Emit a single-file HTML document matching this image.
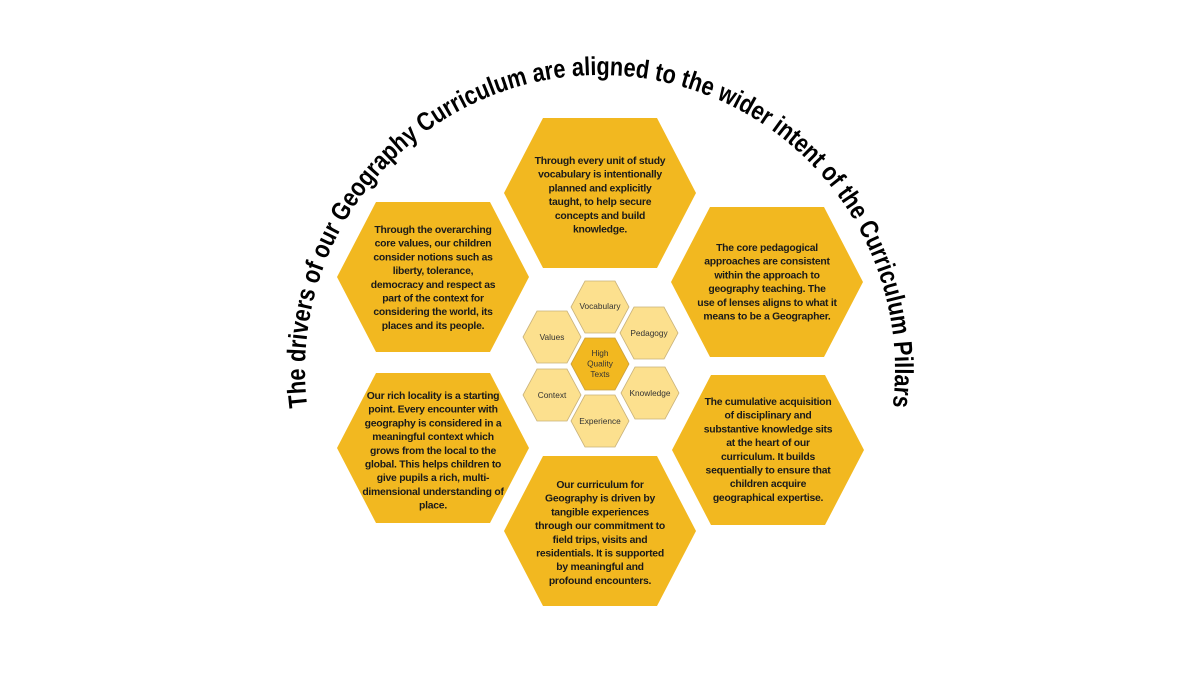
<!DOCTYPE html>
<html><head><meta charset="utf-8"><style>
html,body{margin:0;padding:0;background:#fff;width:1200px;height:675px;overflow:hidden}
svg{display:block}
.bt{font-family:"Liberation Sans",sans-serif;font-weight:bold;font-size:10.4px;fill:#1a1a1a;text-anchor:middle;letter-spacing:-0.25px}
.st{font-family:"Liberation Sans",sans-serif;font-size:8.3px;fill:#333;text-anchor:middle}
.arc{font-family:"Liberation Sans",sans-serif;font-weight:bold;font-size:26px;fill:#000}
</style></head><body>
<svg width="1200" height="675" viewBox="0 0 1200 675">
<defs>
<path id="arcp" d="M 308 412 A 295 295 0 1 1 892 412"/>
<polygon id="bh" points="-96,0 -57,-75 57,-75 96,0 57,75 -57,75"/>
<polygon id="sh" points="-29,0 -15,-26 15,-26 29,0 15,26 -15,26"/>
</defs>
<text class="arc"><textPath href="#arcp" startOffset="50%" text-anchor="middle" textLength="1000" lengthAdjust="spacingAndGlyphs">The drivers of our Geography Curriculum are aligned to the wider intent of the Curriculum Pillars</textPath></text>

<g fill="#F2B820">
<use href="#bh" x="600" y="193"/>
<use href="#bh" x="433" y="277"/>
<use href="#bh" x="767" y="282"/>
<use href="#bh" x="433" y="448"/>
<use href="#bh" x="768" y="450"/>
<use href="#bh" x="600" y="531"/>
</g>

<text class="bt" x="600" y="164"><tspan x="600">Through every unit of study</tspan><tspan x="600" dy="13.7">vocabulary is intentionally</tspan><tspan x="600" dy="13.7">planned and explicitly</tspan><tspan x="600" dy="13.7">taught, to help secure</tspan><tspan x="600" dy="13.7">concepts and build</tspan><tspan x="600" dy="13.7">knowledge.</tspan></text>

<text class="bt" x="433" y="233"><tspan x="433">Through the overarching</tspan><tspan x="433" dy="13.7">core values, our children</tspan><tspan x="433" dy="13.7">consider notions such as</tspan><tspan x="433" dy="13.7">liberty, tolerance,</tspan><tspan x="433" dy="13.7">democracy and respect as</tspan><tspan x="433" dy="13.7">part of the context for</tspan><tspan x="433" dy="13.7">considering the world, its</tspan><tspan x="433" dy="13.7">places and its people.</tspan></text>

<text class="bt" x="767" y="251"><tspan x="767">The core pedagogical</tspan><tspan x="767" dy="13.7">approaches are consistent</tspan><tspan x="767" dy="13.7">within the approach to</tspan><tspan x="767" dy="13.7">geography teaching. The</tspan><tspan x="767" dy="13.7">use of lenses aligns to what it</tspan><tspan x="767" dy="13.7">means to be a Geographer.</tspan></text>

<text class="bt" x="433" y="399"><tspan x="433">Our rich locality is a starting</tspan><tspan x="433" dy="13.7">point. Every encounter with</tspan><tspan x="433" dy="13.7">geography is considered in a</tspan><tspan x="433" dy="13.7">meaningful context which</tspan><tspan x="433" dy="13.7">grows from the local to the</tspan><tspan x="433" dy="13.7">global. This helps children to</tspan><tspan x="433" dy="13.7">give pupils a rich, multi-</tspan><tspan x="433" dy="13.7">dimensional understanding of</tspan><tspan x="433" dy="13.7">place.</tspan></text>

<text class="bt" x="768" y="405"><tspan x="768">The cumulative acquisition</tspan><tspan x="768" dy="13.7">of disciplinary and</tspan><tspan x="768" dy="13.7">substantive knowledge sits</tspan><tspan x="768" dy="13.7">at the heart of our</tspan><tspan x="768" dy="13.7">curriculum. It builds</tspan><tspan x="768" dy="13.7">sequentially to ensure that</tspan><tspan x="768" dy="13.7">children acquire</tspan><tspan x="768" dy="13.7">geographical expertise.</tspan></text>

<text class="bt" x="600" y="488"><tspan x="600">Our curriculum for</tspan><tspan x="600" dy="13.7">Geography is driven by</tspan><tspan x="600" dy="13.7">tangible experiences</tspan><tspan x="600" dy="13.7">through our commitment to</tspan><tspan x="600" dy="13.7">field trips, visits and</tspan><tspan x="600" dy="13.7">residentials. It is supported</tspan><tspan x="600" dy="13.7">by meaningful and</tspan><tspan x="600" dy="13.7">profound encounters.</tspan></text>

<g fill="#FCE08E" stroke="#C9B27A" stroke-width="0.8">
<use href="#sh" x="600" y="307"/>
<use href="#sh" x="552" y="337"/>
<use href="#sh" x="649" y="333"/>
<use href="#sh" x="552" y="395"/>
<use href="#sh" x="650" y="393"/>
<use href="#sh" x="600" y="421"/>
</g>
<use href="#sh" x="600" y="364" fill="#F2B820" stroke="#C9A040" stroke-width="0.8"/>

<text class="st" x="600" y="309">Vocabulary</text>
<text class="st" x="552" y="340">Values</text>
<text class="st" x="649" y="336">Pedagogy</text>
<text class="st" x="552" y="398">Context</text>
<text class="st" x="650" y="396">Knowledge</text>
<text class="st" x="600" y="424">Experience</text>
<text class="st" x="600" y="356"><tspan x="600">High</tspan><tspan x="600" dy="10.5">Quality</tspan><tspan x="600" dy="10.5">Texts</tspan></text>
</svg>
</body></html>
